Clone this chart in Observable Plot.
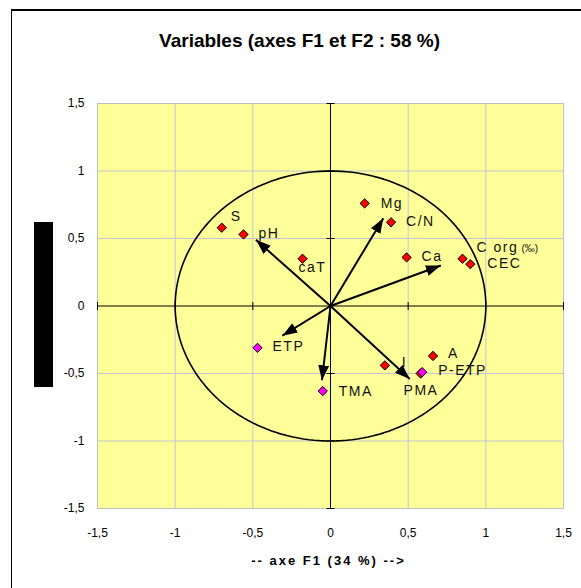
<!DOCTYPE html>
<html>
<head>
<meta charset="utf-8">
<script src="https://cdn.jsdelivr.net/npm/d3@7"></script>
<script src="https://cdn.jsdelivr.net/npm/@observablehq/plot@0.6"></script>
<style>
  html, body { margin: 0; padding: 0; background: #ffffff; overflow: hidden; }
  #wrap { position: relative; width: 581px; height: 588px; }
  #wrap svg { position: absolute; left: 0; top: 0; }
  #outer { position: absolute; left: 11px; top: 9px; width: 700px; height: 700px;
           border-left: 1px solid #000; border-top: 2px solid #000; box-sizing: border-box; pointer-events: none; }
  #ytitle { position: absolute; left: 34px; top: 222px; width: 19px; height: 165px; background: #000;
            overflow: hidden; }
  #ytitle span { position: absolute; left: 50%; top: 50%; transform: translate(-50%, -50%) rotate(-90deg);
                 white-space: nowrap; color: #000; font: bold 12px "Liberation Sans", Arial, sans-serif; }
  [aria-label="point-label"] { letter-spacing: 1.5px; }
  [aria-label="x-title"] { letter-spacing: 2px; }
</style>
</head>
<body>
<div id="wrap">
  <div id="outer"></div>
  <div id="ytitle"><span>-- axe F2 (24 %) --&gt;</span></div>
</div>
<script>
// ---- data ----
const chartTitle = "Variables (axes F1 et F2 : 58 %)";
const xTitle = "-- axe F1 (34 %) -->";
const yTitle = "-- axe F2 (24 %) -->";

// active variables (red diamonds)
const activeNames = ["S", "pH", "caT", "Mg", "C/N", "Ca", "C org", "CEC", "A", "I", "PMA"];
const activeF1 = [-0.70, -0.56, -0.18, 0.22, 0.39, 0.49, 0.85, 0.90, 0.66, 0.35, 0.58];
const activeF2 = [0.58, 0.53, 0.35, 0.76, 0.62, 0.36, 0.35, 0.31, -0.37, -0.44, -0.50];

// supplementary variables (magenta diamonds)
const suppNames = ["ETP", "P-ETP", "TMA"];
const suppF1 = [-0.47, 0.59, -0.05];
const suppF2 = [-0.31, -0.49, -0.63];

// arrows (vectors from the origin)
const arrowNames = ["pH", "C/N", "Ca", "ETP", "TMA", "PMA"];
const arrowF1 = [-0.48, 0.34, 0.71, -0.31, -0.055, 0.51];
const arrowF2 = [0.49, 0.65, 0.30, -0.22, -0.55, -0.54];

// axes
const tickValues = [-1.5, -1, -0.5, 0, 0.5, 1, 1.5];
const gridValues = [-1, -0.5, 0.5, 1];
const axisTickValues = [-1.5, -1, -0.5, 0.5, 1, 1.5];

// ---- layout (label offsets in pixels, not data) ----
const defaultOffset = [15, -1];
const labelOffsets = {
  "S": [9, -11], "caT": [-4, 9], "C org": [14, -11], "CEC": [17, -1],
  "I": [17, -3], "PMA": [-17, 17], "Mg": [16, 0], "TMA": [16, 0], "A": [15, -2], "P-ETP": [16, -2]
};

const active = activeNames.map((name, i) => ({name, f1: activeF1[i], f2: activeF2[i]}));
const supp = suppNames.map((name, i) => ({name, f1: suppF1[i], f2: suppF2[i]}));
const arrows = arrowNames.map((name, i) => ({name, f1: arrowF1[i], f2: arrowF2[i]}));

// correlation circle (radius 1) – geometric reference, not data
const circle = d3.range(0, 361, 2).map(a => ({x: Math.cos(a * Math.PI / 180), y: Math.sin(a * Math.PI / 180)}));

const fmt = d => String(d).replace(".", ",");
const font = '"Liberation Sans", Arial, sans-serif';

const hTick = {draw(ctx) { ctx.moveTo(-4, 0); ctx.lineTo(4, 0); }};
const vTick = {draw(ctx) { ctx.moveTo(0, -4); ctx.lineTo(0, 4); }};

const labelMarks = [...active, ...supp].map(p => {
  const o = labelOffsets[p.name] || defaultOffset;
  return Plot.text([p], {x: "f1", y: "f2", text: "name", dx: o[0], dy: o[1],
    textAnchor: "start", fontSize: 14, fill: "#111", ariaLabel: () => "point-label"});
});

const corg = active.find(d => d.name === "C org");

const chart = Plot.plot({
  width: 581,
  height: 588,
  marginLeft: 97,
  marginRight: 18,
  marginTop: 103,
  marginBottom: 80,
  style: {fontFamily: font, fontSize: "12px", color: "#000", background: "transparent", overflow: "visible"},
  x: {domain: [-1.5, 1.5], ticks: tickValues, tickFormat: fmt, tickSize: 0, tickPadding: 20, label: null},
  y: {domain: [-1.5, 1.5], ticks: tickValues, tickFormat: fmt, tickSize: 0, tickPadding: 13, label: null},
  marks: [
    Plot.frame({fill: "#ffff99", stroke: null}),
    Plot.ruleX(gridValues, {stroke: "#c4c4d8", strokeWidth: 1}),
    Plot.ruleY(gridValues, {stroke: "#c4c4d8", strokeWidth: 1}),
    Plot.frame({stroke: "#c0c0c0", strokeWidth: 1}),
    Plot.line(circle, {x: "x", y: "y", stroke: "#000", strokeWidth: 1.6}),
    Plot.ruleX([0], {stroke: "#000", strokeWidth: 1}),
    Plot.ruleY([0], {stroke: "#000", strokeWidth: 1}),
    Plot.dot(axisTickValues, {x: () => 0, y: d => d, symbol: hTick, stroke: "#000", fill: "none", strokeWidth: 1}),
    Plot.dot(axisTickValues, {x: d => d, y: () => 0, symbol: vTick, stroke: "#000", fill: "none", strokeWidth: 1}),
    Plot.link(arrows, {x1: () => 0, y1: () => 0, x2: "f1", y2: "f2", stroke: "#000", strokeWidth: 2, ariaLabel: () => "loadings"}),
    Plot.dot(active, {x: "f1", y: "f2", symbol: "diamond2", r: 4.2, fill: "#ff0000", stroke: "#000", strokeWidth: 1}),
    Plot.dot(supp, {x: "f1", y: "f2", symbol: "diamond2", r: 4.2, fill: "#ff00ff", stroke: "#000", strokeWidth: 1}),
    ...labelMarks,
    Plot.text([corg], {x: "f1", y: "f2", text: () => "(‰)", dx: 59, dy: -10, textAnchor: "start", fontSize: 10, fill: "#111"}),
    Plot.text([chartTitle], {frameAnchor: "top", dx: -31, dy: -63, lineAnchor: "middle", fontSize: 19, fontWeight: "bold", fill: "#000"}),
    Plot.text([xTitle], {frameAnchor: "bottom", dx: -2, dy: 52, lineAnchor: "middle", fontSize: 13, fontWeight: "bold", fill: "#000", ariaLabel: () => "x-title"})
  ]
});

// filled arrowheads on the loading vectors
const svg = d3.select(chart);
svg.append("defs").append("marker")
  .attr("id", "ah")
  .attr("viewBox", "-15 -6 15 12")
  .attr("refX", 0).attr("refY", 0)
  .attr("markerWidth", 15).attr("markerHeight", 12)
  .attr("markerUnits", "userSpaceOnUse")
  .attr("orient", "auto")
  .append("path").attr("d", "M-15,-5.5L0,0L-15,5.5Z").attr("fill", "#000");
let linkPaths = svg.selectAll('[aria-label="loadings"]');
if (linkPaths.empty()) linkPaths = svg.selectAll('g[aria-label="link"] path');
linkPaths.attr("marker-end", "url(#ah)");
// letter spacing fallback (if aria-label channel not applied per element)
svg.selectAll('[aria-label="point-label"]').style("letter-spacing", "1.5px");
svg.selectAll('[aria-label="x-title"]').style("letter-spacing", "2px");

document.getElementById("wrap").prepend(chart);
</script>
</body>
</html>
